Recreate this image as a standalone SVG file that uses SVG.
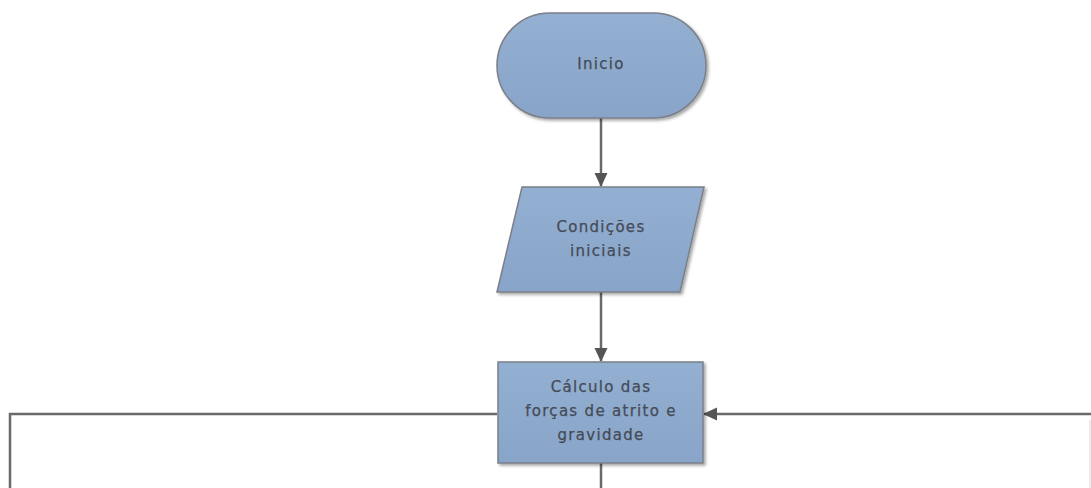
<svg xmlns="http://www.w3.org/2000/svg" width="1091" height="488" viewBox="0 0 1091 488">
  <defs>
    <linearGradient id="fillGrad" x1="0" y1="0" x2="0" y2="1">
      <stop offset="0" stop-color="#93b0d2"/>
      <stop offset="1" stop-color="#88a5c9"/>
    </linearGradient>
    <filter id="shadow" x="-10%" y="-10%" width="125%" height="130%">
      <feDropShadow dx="2" dy="2" stdDeviation="1.5" flood-color="#000" flood-opacity="0.35"/>
    </filter>
    <marker id="arrow" viewBox="0 0 14 14" refX="13" refY="7" markerWidth="14" markerHeight="14" markerUnits="userSpaceOnUse" orient="auto">
      <path d="M0,0.5 L14,7 L0,13.5 Z" fill="#555"/>
    </marker>
    <style>
      .shape { fill: url(#fillGrad); stroke: #7a7f88; stroke-width: 1.5; filter: url(#shadow); }
      .label { font-family: "DejaVu Sans", sans-serif; font-size: 15px; letter-spacing: 1.3px; fill: #454a56; stroke: #454a56; stroke-width: 0.25; text-anchor: middle; dominant-baseline: central; }
      .conn { fill: none; stroke: #6a6a6a; stroke-width: 2.5; }
    </style>
  </defs>

  <!-- connectors -->
  <g id="connectors">
    <line class="conn" x1="601" y1="118" x2="601" y2="186" marker-end="url(#arrow)"/>
    <line class="conn" x1="601" y1="292" x2="601" y2="361" marker-end="url(#arrow)"/>
    <line class="conn" x1="601" y1="463" x2="601" y2="488"/>
    <polyline class="conn" points="497,414 10,414 10,488"/>
    <line class="conn" x1="1091" y1="414" x2="704" y2="414" marker-end="url(#arrow)"/>
    <line x1="1090" y1="420" x2="1090" y2="488" stroke="#e4e4e4" stroke-width="1.5"/>
  </g>

  <!-- start terminal -->
  <g id="node-inicio">
    <rect class="shape" x="497" y="13" width="209" height="105" rx="52.5" ry="52.5"/>
    <text class="label" x="601" y="64">Inicio</text>
  </g>

  <!-- input parallelogram -->
  <g id="node-condicoes">
    <polygon class="shape" points="522,187 704,187 680,292 497,292"/>
    <text class="label" x="601" y="227">Condições</text>
    <text class="label" x="601" y="251">iniciais</text>
  </g>

  <!-- process box -->
  <g id="node-calculo">
    <rect class="shape" x="498" y="362" width="205" height="101"/>
    <text class="label" x="601" y="387">Cálculo das</text>
    <text class="label" x="601" y="411">forças de atrito e</text>
    <text class="label" x="601" y="435">gravidade</text>
  </g>
</svg>
